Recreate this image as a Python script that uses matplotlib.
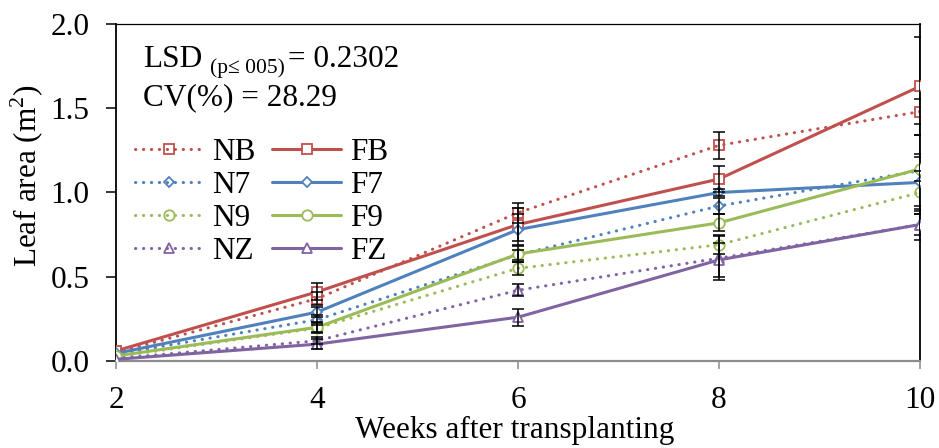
import matplotlib
matplotlib.use("Agg")
import matplotlib.pyplot as plt

plt.rcParams["font.family"] = ["Liberation Serif", "DejaVu Serif"]
plt.rcParams["mathtext.fontset"] = "custom"
plt.rcParams["mathtext.rm"] = "Liberation Serif"

# Leaf area (m2) by weeks after transplanting
weeks = [2, 4, 6, 8, 10]
labels = ["NB", "N7", "N9", "NZ", "FB", "F7", "F9", "FZ"]

NB = [0.05, 0.37, 0.88, 1.28, 1.48]
N7 = [0.04, 0.245, 0.63, 0.92, 1.13]
N9 = [0.025, 0.195, 0.55, 0.69, 1.00]
NZ = [0.015, 0.12, 0.42, 0.61, 0.81]
FB = [0.06, 0.41, 0.81, 1.08, 1.63]
F7 = [0.045, 0.29, 0.78, 1.00, 1.06]
F9 = [0.03, 0.20, 0.635, 0.82, 1.14]
FZ = [0.01, 0.10, 0.26, 0.60, 0.81]

# standard errors (none shown at week 2)
NB_err = [0.0, 0.04, 0.06, 0.08, 0.075]
N7_err = [0.0, 0.03, 0.03, 0.05, 0.21]
N9_err = [0.0, 0.03, 0.04, 0.055, 0.13]
NZ_err = [0.0, 0.02, 0.035, 0.13, 0.09]
FB_err = [0.0, 0.05, 0.10, 0.08, 0.29]
F7_err = [0.0, 0.03, 0.09, 0.02, 0.17]
F9_err = [0.0, 0.03, 0.05, 0.05, 0.07]
FZ_err = [0.0, 0.03, 0.05, 0.10, 0.06]

series = [NB, N7, N9, NZ, FB, F7, F9, FZ]
errors = [NB_err, N7_err, N9_err, NZ_err, FB_err, F7_err, F9_err, FZ_err]

colors = ["#C0504D", "#4F81BD", "#9BBB59", "#8064A2"] * 2
markers = ["s", "D", "o", "^"] * 2
msizes = {"s": 6.5, "D": 5.3, "o": 7.5, "^": 7.5}
dotted = (0, (0.1, 2.5))
styles = [dotted] * 4 + ["-"] * 4

W, H = 939, 448
fig = plt.figure(figsize=(W / 100, H / 100), dpi=100)
ax = fig.add_axes([116 / W, 1 - 361 / H, (920 - 116) / W, (361 - 24) / H])

handles = []
for i, (vals, lab) in enumerate(zip(series, labels)):
    (ln,) = ax.plot(
        weeks, vals, color=colors[i], linestyle=styles[i], lw=2.2,
        dash_capstyle="round", solid_capstyle="round",
        marker=markers[i], ms=msizes[markers[i]], mew=1.3,
        mfc="white" if styles[i] == "-" else "none", mec=colors[i],
        label=lab, zorder=3 if styles[i] == "-" else 2,
    )
    handles.append(ln)

for vals, err in zip(series, errors):
    idx = [k for k, e in enumerate(err) if e > 0]
    ax.errorbar([weeks[k] for k in idx], [vals[k] for k in idx],
                yerr=[err[k] for k in idx], fmt="none", ecolor="black",
                elinewidth=1.1, capsize=4.3, capthick=1.1, zorder=5)

ax.set_xlim(2, 10)
ax.set_ylim(0, 2.0)
ax.set_xticks(weeks)
yt = [0.0, 0.5, 1.0, 1.5, 2.0]
ax.set_yticks(yt)
ax.set_yticklabels([f"{v:.1f}" for v in yt])
ax.tick_params(axis="x", direction="out", length=6, width=1.1, color="#8c8c8c",
               labelsize=22.5, pad=12)
ax.tick_params(axis="y", direction="out", length=7, width=1.1, color="black",
               labelsize=22.5, pad=12)
for side in ["left", "top", "right"]:
    ax.spines[side].set_color("black")
    ax.spines[side].set_linewidth(1.3)
ax.spines["top"].set_linewidth(0.9)
ax.spines["bottom"].set_color("#8c8c8c")
ax.spines["bottom"].set_linewidth(1.6)

fig.text(515 / W, 1 - 430 / H, "Weeks after transplanting", fontsize=22.5,
         ha="center", va="center")
fig.text(27 / W, 1 - 176 / H, r"Leaf area (m$^{\rm 2}$)", fontsize=22.5,
         rotation=90, ha="center", va="center")

leg = ax.legend(handles=handles, ncol=2, loc="upper left",
                bbox_to_anchor=(135 / W, 1 - 138 / H), bbox_transform=fig.transFigure,
                frameon=False, fontsize=22.5, handlelength=2.18, handletextpad=0.29,
                columnspacing=0.54, labelspacing=0.13, borderpad=0, borderaxespad=0,
                numpoints=1)

# Statistics annotation with a subscript piece
renderer = fig.canvas.get_renderer()
def fx(px):
    return px / W
def fy(py):
    return 1 - py / H

t1 = fig.text(fx(143), fy(67), "LSD", fontsize=22.5, va="baseline")
bb = t1.get_window_extent(renderer)
t2 = fig.text(fx(bb.x1 + 8), fy(73), "(p\u2264 005)", fontsize=15.5, va="baseline")
bb2 = t2.get_window_extent(renderer)
fig.text(fx(bb2.x1 + 3), fy(67), "= 0.2302", fontsize=22.5, va="baseline")
fig.text(fx(143), fy(105), "CV(%) = 28.29", fontsize=22.5, va="baseline")

fig.savefig("out.png", dpi=100)
